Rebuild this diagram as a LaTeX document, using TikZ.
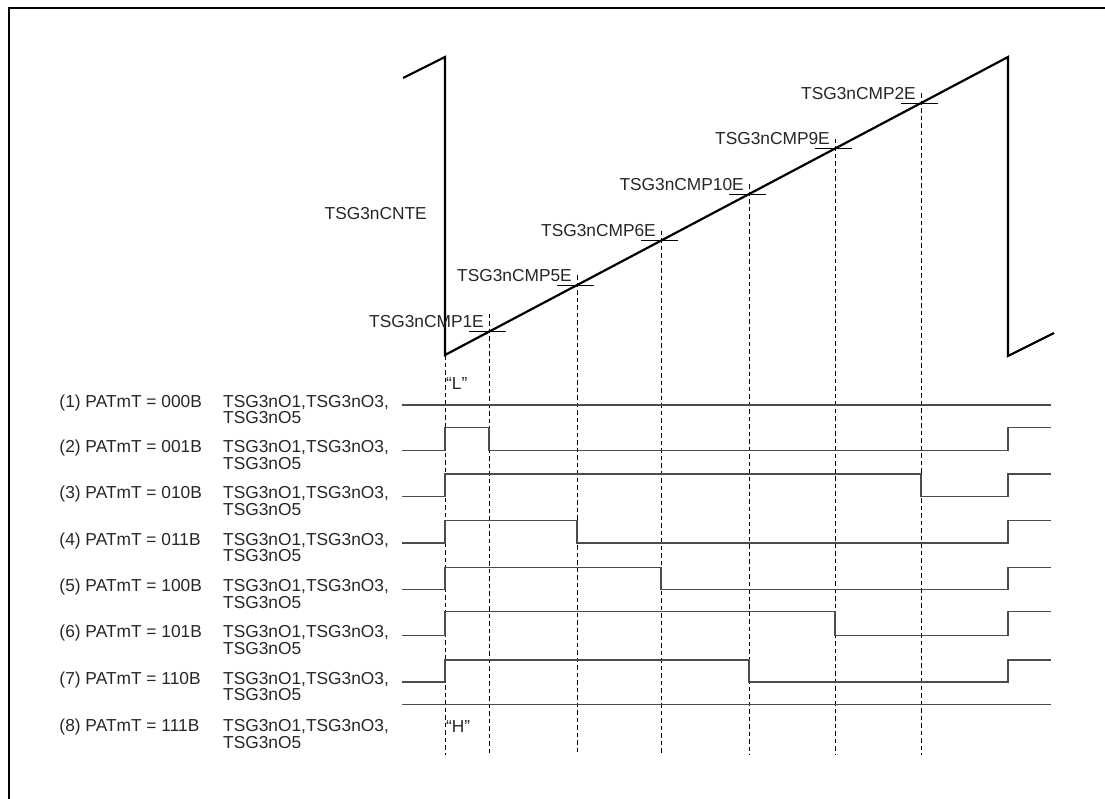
\documentclass[tikz,border=0pt]{standalone}
\usepackage{fontspec}
\setmainfont{Liberation Sans}
\usetikzlibrary{calc}

\begin{document}
\begin{tikzpicture}[x=1bp, y=-1bp,
  every node/.style={font=\fontsize{17.4}{16.7}\selectfont, inner sep=0pt, text=black!85},
  saw/.style={line width=2.2bp, line join=miter},
  cut/.style={line width=0.8bp},
  guide/.style={line width=0.9bp, dash pattern=on 4.5bp off 3bp},
  wave/.style={line width=1.2bp, black!70}
]
\useasboundingbox (0,0) rectangle (1105,799);
\draw[line width=2bp] (9,799) -- (9,8) -- (1105,8);
\coordinate (lo) at (445,355);
\coordinate (hi) at (1008,57);
\draw[saw] (403,78) -- (445,57) -- (lo) -- (hi) -- (1008,356) -- (1054,333);
\node[anchor=base east] (cnte) at (427,219) {TSG3nCNTE};
\draw[guide] (lo) -- (445,755);
\foreach \n/\x/\up in {1/489/18, 5/577/10, 6/661/10, 10/749/10, 9/835/10, 2/921/10}{
  \pgfmathsetmacro\y{355-(\x-445)*0.52931}
  \draw[cut] ({\x-20},\y) -- ({\x+17},\y);
  \draw[guide] (\x,{\y-\up}) -- (\x,755);
  \node[anchor=base east] (cmp\n) at ({\x-5},{\y-4}) {TSG3nCMP\n E};
}
\foreach \i/\val/\yc in {1/000B/405, 2/001B/450.7, 3/010B/496.5, 4/011B/543,
  5/100B/589.3, 6/101B/635.7, 7/110B/682, 8/111B/729.5}{
  \node[anchor=base west] (pat\i) at (59.3,{\yc+2}) {(\i) PATmT = \val};
  \node[anchor=base west] (out\i) at (223,{\yc+2}) {TSG3nO1,TSG3nO3,};
  \node[anchor=base west] (out\i b) at (223,{\yc+18.7}) {TSG3nO5};
}
\draw[wave] (402,405) -- (1051,405);
\foreach \lo/\hi/\fall in {450.7/427.7/489, 496.5/474/921, 543/520.7/577,
  589.3/567.3/661, 635.7/611.7/835, 682/660/749}{
  \draw[wave] (402,\lo) -| (445,\hi) -| (\fall,\lo) -| (1008,\hi) -- (1051,\hi);
}
\draw[wave] (402,704.3) -- (1051,704.3);
\node[anchor=base west] (low) at (446,389) {“L”};
\node[anchor=base west] (high) at (446,732) {“H”};
\end{tikzpicture}
\end{document}
